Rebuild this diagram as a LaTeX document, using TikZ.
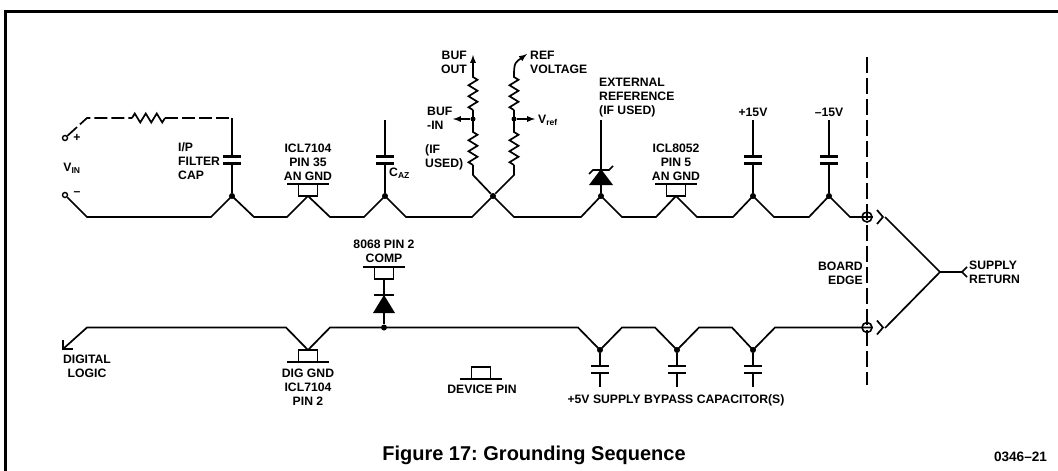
\documentclass[tikz,border=0pt]{standalone}
\usepackage{fontspec}
\setmainfont{Liberation Sans}
\usetikzlibrary{calc,decorations.pathmorphing}
\tikzset{
    wire/.style={line width=1.7pt, line join=miter},
    dashwire/.style={wire, dash pattern=on 13pt off 4pt},
    edgeline/.style={line width=1.5pt, dash pattern=on 16pt off 5pt},
    res/.style={
        wire, decorate,
        decoration={zigzag, segment length=11pt, amplitude=4.5pt}
    },
    dot/.style={
        circle, fill=black, draw=none,
        minimum size=6pt, inner sep=0pt
    },
    lbl/.style={
        font=\fontsize{12.2}{14}\bfseries\selectfont,
        inner sep=0pt, align=center
    },
    lbll/.style={lbl, align=left, anchor=west},
    lblr/.style={lbl, align=right, anchor=east},
    terminal/.style={
        circle, draw, line width=1.4pt, fill=white,
        minimum size=5pt, inner sep=0pt
    },
    crossing/.style={
        circle, draw, line width=1.6pt,
        minimum size=10pt, inner sep=0pt
    },
    pics/cap/.style={
        code={
            \draw[line width=2.5pt] (-9,-3.5) -- (9,-3.5);
            \draw[line width=2.5pt] (-9,3.5) -- (9,3.5);
        }
    },
    pics/pinup/.style={
        code={
            \draw[wire] (-21,0) -- (21,0);
            \draw[wire] (-9.5,0) -- (-9.5,12) -- (9.5,12) -- (9.5,0);
        }
    },
    pics/pindown/.style={
        code={
            \draw[wire] (-21,0) -- (21,0);
            \draw[wire] (-9.5,0) -- (-9.5,-12) -- (9.5,-12) -- (9.5,0);
        }
    }
}

\begin{document}
\frenchspacing
\begin{tikzpicture}[x=1pt,y=-1pt]
	\useasboundingbox (0,0) rectangle (1058,471);

	% frame
	\draw[line width=3pt] (5.5,471) -- (5.5,11) -- (1058,11);

	% top rail
	\node[terminal] (vinp) at (65,138) {};
	\node[terminal] (vinm) at (65,195) {};
	\coordinate (r1) at (87,217);
	\node[dot] (filt) at (232,196) {};
	\coordinate (pa) at (308,196);
	\node[dot] (caz) at (385,196) {};
	\node[dot] (star) at (493,196) {};
	\node[dot] (ext) at (601,196) {};
	\coordinate (pb) at (676,196);
	\node[dot] (p15) at (753,196) {};
	\node[dot] (m15) at (829,196) {};
	\node[crossing] (cta) at (867,217) {};
	\draw[wire] (vinm) -- (r1)
		-- (211,217) -- (filt.center) -- (254,217)
		-- (287,217) -- (pa) -- (330,217)
		-- (364,217) -- (caz.center) -- (406,217)
		-- (472,217) -- (star.center) -- (514,217)
		-- (581,217) -- (ext.center) -- (622,217)
		-- (656,217) -- (pb) -- (697,217)
		-- (733,217) -- (p15.center) -- (774,217)
		-- (809,217) -- (m15.center) -- (850,217)
		-- (cta.east);

	% bottom rail
	\coordinate (dl) at (63,349);
	\coordinate (pc) at (308,350);
	\node[dot] (cmp) at (384,327.5) {};
	\node[dot] (b1) at (600,350) {};
	\node[dot] (b2) at (677,350) {};
	\node[dot] (b3) at (753,350) {};
	\node[crossing] (ctb) at (867,327.5) {};
	\draw[wire] (dl) -- (87,327.5)
		-- (286,327.5) -- (pc) -- (330,327.5)
		-- (578,327.5) -- (b1.center) -- (622,327.5)
		-- (655,327.5) -- (b2.center) -- (699,327.5)
		-- (732,327.5) -- (b3.center) -- (775,327.5)
		-- (ctb.east);
	\draw[wire] (dl) ++(0,-9) -- (dl) -- ++(10,0);

	% input filter
	\coordinate (fa) at (87,118);
	\coordinate (ra) at (132,118);
	\coordinate (rb) at (165,118);
	\coordinate (fb) at (232,118);
	\draw[dashwire] (vinp) -- (fa) -- (ra);
	\draw[res] (ra) -- (rb);
	\draw[dashwire] (rb) -- (fb);
	\draw[wire] (fb) -- (232,156.5);
	\draw[wire] (232,163.5) -- (filt);
	\pic at (232,160) {cap};

	% capacitors
	\draw[wire] (385,120) -- (385,156.5) (385,163.5) -- (caz);
	\pic at (385,160) {cap};
	\draw[wire] (753,120) -- (753,156.5) (753,163.5) -- (p15);
	\pic at (753,160) {cap};
	\draw[wire] (829,120) -- (829,156.5) (829,163.5) -- (m15);
	\pic at (829,160) {cap};

	% bypass
	\draw[wire] (b1) -- (600,366) (600,373) -- (600,387);
	\pic at (600,369.5) {cap};
	\draw[wire] (b2) -- (677,366) (677,373) -- (677,387);
	\pic at (677,369.5) {cap};
	\draw[wire] (b3) -- (753,366) (753,373) -- (753,387);
	\pic at (753,369.5) {cap};

	% pins
	\pic at (308,184) {pinup};
	\pic at (676,184) {pinup};
	\pic at (384,267) {pinup};
	\pic at (308,362) {pindown};
	\pic at (481,379) {pindown};

	% divider
	\coordinate (bufa) at (473,175);
	\coordinate (bufb) at (473,165);
	\node[dot,minimum size=5pt] (bufn) at (473,119) {};
	\coordinate (bufc) at (473,130);
	\coordinate (bufd) at (473,110);
	\coordinate (bufe) at (473,75);
	\coordinate (buft) at (473,55);
	\coordinate (bufi) at (453,119);
	\draw[wire] (star) -- (bufa) -- (bufb);
	\draw[res] (bufb) -- (bufc);
	\draw[wire] (bufc) -- (bufd);
	\draw[res] (bufd) -- (bufe);
	\draw[wire,-latex] (bufe) -- (buft);
	\draw[wire,-latex] (bufn) -- (bufi);
	\coordinate (refa) at (514,175);
	\coordinate (refb) at (514,165);
	\node[dot,minimum size=5pt] (refn) at (514,119) {};
	\coordinate (refc) at (514,130);
	\coordinate (refd) at (514,110);
	\coordinate (refe) at (514,75);
	\coordinate (reft) at (527,54);
	\coordinate (refi) at (535,119);
	\draw[wire] (star) -- (refa) -- (refb);
	\draw[res] (refb) -- (refc);
	\draw[wire] (refc) -- (refd);
	\draw[res] (refd) -- (refe);
	\draw[wire,-latex] (refe) .. controls (514,62) and (516,62) .. (reft);
	\draw[wire,-latex] (refn) -- (refi);

	% zener
	\coordinate (zt) at (601,120);
	\draw[wire] (zt) -- (ext);
	\fill (589,185) -- (613,185) -- (601,169) -- cycle;
	\draw[wire] (589,174) -- (593,170) -- (609,170) -- (613,166);

	% comp diode
	\draw[wire] (384,280) -- (cmp);
	\fill (373,313) -- (395,313) -- (384,295) -- cycle;
	\draw[wire] (374,295) -- (394,295);

	% board edge
	\draw[edgeline] (867,57) -- (867,385);
	\draw[wire] (877,210) -- (883,217) -- (877,224);
	\draw[wire] (877,320.5) -- (883,327.5) -- (877,334.5);

	% supply return
	\coordinate (sa) at (885,217);
	\coordinate (sb) at (885,328);
	\coordinate (sj) at (940,272);
	\coordinate (st) at (962,272);
	\draw[wire] (sa) -- (sj) -- (sb);
	\draw[wire] (sj) -- (st);
	\draw[wire] (967,267) -- (st) -- (967,277);

	% labels
	\node[lbll] (lfilt) at (178,161) {I/P\\FILTER\\CAP};
	\node[lbl] (lpa) at (308,162) {ICL7104\\PIN 35\\AN GND};
	\node[lbll] (lcaz) at (389,173) {C\textsubscript{AZ}};
	\node[lbl] (lvin) at (72,168) {V\textsubscript{IN}};
	\node[lbl] (lplus) at (77,138) {+};
	\node[lbl] (lminus) at (77,194) {\textendash};
	\node[lblr] (lout) at (467,62) {BUF\\OUT};
	\node[lbll] (lin) at (427,118.5) {BUF\\-IN};
	\node[lbll] (lused) at (425,157.5) {(IF\\USED)};
	\node[lbll] (lref) at (530,62) {REF\\VOLTAGE};
	\node[lbll] (lvref) at (538,120) {V\textsubscript{ref}};
	\node[lbll] (lext) at (599,98) {EXTERNAL\\REFERENCE\\(IF USED)};
	\node[lbl] (lpb) at (676,162.5) {ICL8052\\PIN 5\\AN GND};
	\node[lbl] (lp15) at (753,112) {+15V};
	\node[lbl] (lm15) at (829,112) {\textendash15V};
	\node[lbl] (lcmp) at (384,251) {8068 PIN 2\\COMP};
	\node[lbl] (ldig) at (87,366) {DIGITAL\\LOGIC};
	\node[lbl] (lpc) at (308,387) {DIG GND\\ICL7104\\PIN 2};
	\node[lbl] (ldev) at (482,389) {DEVICE PIN};
	\node[lbl] (lbyp) at (676,400) {+5V SUPPLY BYPASS CAPACITOR(S)};
	\node[lblr] (ledge) at (863,273.5) {BOARD\\EDGE};
	\node[lbll] (lret) at (969,272.5) {SUPPLY\\RETURN};
	\node[font=\fontsize{20}{22}\bfseries\selectfont,inner sep=0pt] (title) at (534,455) {Figure 17: Grounding Sequence};
	\node[font=\fontsize{13.6}{15}\bfseries\selectfont,inner sep=0pt] (code) at (1020.5,457) {0346\textendash21};
\end{tikzpicture}
\end{document}
